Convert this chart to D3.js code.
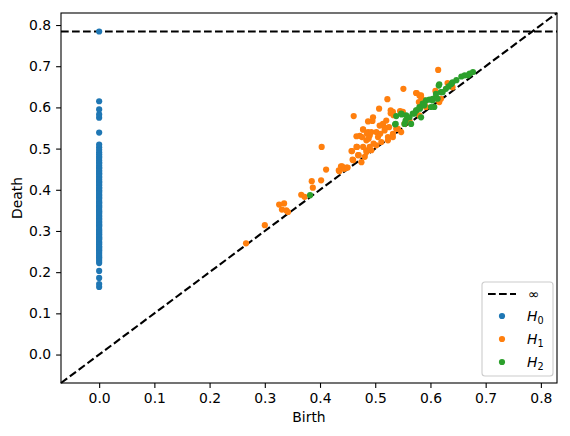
<!DOCTYPE html>
<html lang="en">

<head>
   <meta charset="UTF-8">
   <title>Persistence diagram</title>
   <script src="https://d3js.org/d3.v7.min.js"></script>
   <style>
      body { margin: 0; background: #fff; }
      text { font-family: 'DejaVu Sans', sans-serif; }
   </style>
</head>

<body>
   <script>

      // H0 deaths (all births are 0), last one never dies
      const h0Death = [0.164, 0.171, 0.186, 0.203, 0.222, 0.227, 0.232, 0.236, 0.240, 0.245, 0.249, 0.253,
         0.256, 0.260, 0.263, 0.268, 0.271, 0.274, 0.279, 0.282, 0.285, 0.288, 0.292, 0.295, 0.298, 0.302,
         0.305, 0.310, 0.313, 0.316, 0.320, 0.323, 0.327, 0.330, 0.334, 0.337, 0.341, 0.345, 0.348, 0.351,
         0.356, 0.359, 0.362, 0.367, 0.370, 0.373, 0.378, 0.381, 0.385, 0.388, 0.392, 0.396, 0.399, 0.403,
         0.406, 0.411, 0.414, 0.418, 0.421, 0.425, 0.429, 0.432, 0.437, 0.440, 0.444, 0.447, 0.452, 0.455,
         0.459, 0.464, 0.467, 0.472, 0.477, 0.481, 0.486, 0.491, 0.497, 0.503, 0.510, 0.539, 0.575, 0.583,
         0.595, 0.615, Infinity];

      const h1Birth = [0.266, 0.300, 0.326, 0.335, 0.331, 0.339, 0.342, 0.366, 0.372, 0.385, 0.387, 0.402,
         0.411, 0.435, 0.440, 0.448, 0.403, 0.461, 0.507, 0.522, 0.551, 0.614, 0.574, 0.580, 0.487, 0.495,
         0.496, 0.478, 0.466, 0.472, 0.457, 0.467, 0.484, 0.490, 0.487, 0.502, 0.505, 0.520, 0.525, 0.532,
         0.538, 0.478, 0.484, 0.481, 0.490, 0.497, 0.469, 0.460, 0.475, 0.528, 0.532, 0.545, 0.550, 0.514,
         0.517, 0.575, 0.583, 0.579, 0.589, 0.528, 0.533, 0.478, 0.485, 0.493, 0.476, 0.488, 0.508, 0.509,
         0.517, 0.523, 0.458, 0.466, 0.470, 0.484, 0.493, 0.502, 0.511, 0.523, 0.532, 0.438, 0.434, 0.444,
         0.450, 0.459, 0.541, 0.547, 0.553, 0.562, 0.609, 0.631, 0.640, 0.583, 0.589, 0.583, 0.592, 0.619,
         0.616, 0.580];
      const h1Death = [0.270, 0.314, 0.364, 0.367, 0.352, 0.350, 0.346, 0.388, 0.383, 0.421, 0.405, 0.423,
         0.449, 0.445, 0.457, 0.454, 0.504, 0.579, 0.597, 0.620, 0.645, 0.691, 0.635, 0.629, 0.566, 0.567,
         0.576, 0.547, 0.530, 0.531, 0.494, 0.504, 0.520, 0.532, 0.540, 0.540, 0.528, 0.568, 0.552, 0.536,
         0.548, 0.504, 0.496, 0.480, 0.504, 0.512, 0.484, 0.472, 0.467, 0.586, 0.589, 0.591, 0.589, 0.560,
         0.551, 0.635, 0.625, 0.613, 0.609, 0.593, 0.581, 0.546, 0.536, 0.540, 0.528, 0.524, 0.556, 0.536,
         0.544, 0.528, 0.494, 0.504, 0.484, 0.492, 0.496, 0.508, 0.516, 0.520, 0.528, 0.457, 0.447, 0.451,
         0.454, 0.473, 0.548, 0.540, 0.560, 0.568, 0.640, 0.659, 0.649, 0.629, 0.617, 0.605, 0.601, 0.621,
         0.613, 0.581];

      const h2Birth = [0.382, 0.538, 0.548, 0.556, 0.562, 0.568, 0.574, 0.580, 0.586, 0.592, 0.598, 0.604,
         0.610, 0.616, 0.619, 0.628, 0.633, 0.536, 0.553, 0.547, 0.537, 0.555, 0.571, 0.575, 0.581, 0.589,
         0.604, 0.613, 0.615, 0.610, 0.607, 0.565, 0.583, 0.601, 0.656, 0.671, 0.677, 0.662, 0.647, 0.638,
         0.622, 0.640, 0.668];
      const h2Death = [0.387, 0.579, 0.583, 0.581, 0.576, 0.585, 0.593, 0.601, 0.609, 0.617, 0.619, 0.621,
         0.625, 0.656, 0.637, 0.645, 0.651, 0.559, 0.560, 0.585, 0.560, 0.568, 0.585, 0.593, 0.597, 0.605,
         0.617, 0.621, 0.653, 0.633, 0.601, 0.560, 0.576, 0.601, 0.675, 0.682, 0.686, 0.678, 0.666, 0.657,
         0.637, 0.661, 0.678];

      const ticks = [0.0, 0.1, 0.2, 0.3, 0.4, 0.5, 0.6, 0.7, 0.8];
      const colors = ['#1f77b4', '#ff7f0e', '#2ca02c'];
      const labels = ['0', '1', '2'];

      const dgms = [
         h0Death.map(d => [0, d]),
         h1Birth.map((b, i) => [b, h1Death[i]]),
         h2Birth.map((b, i) => [b, h2Death[i]])
      ];

      // axis range like persim: buffer of a fifth of the finite range
      const finite = dgms.flat(2).filter(v => isFinite(v));
      const axMin = d3.min(finite), axMax = d3.max(finite);
      const buffer = (axMax - axMin) / 5;
      const lo = axMin - buffer / 2, hi = axMax + buffer;
      const bInf = lo + (hi - lo) * 0.95;

      const W = 570, H = 436;
      const m = { left: 61, right: 13, top: 13, bottom: 53 };

      const svg = d3.select('body').append('svg').attr('width', W).attr('height', H);

      const x = d3.scaleLinear().domain([lo, hi]).range([m.left, W - m.right]);
      const y = d3.scaleLinear().domain([lo, hi]).range([H - m.bottom, m.top]);

      const plot = svg.append('g');

      plot.append('line')
         .attr('x1', x(lo)).attr('y1', y(lo)).attr('x2', x(hi)).attr('y2', y(hi))
         .attr('stroke', '#000').attr('stroke-width', 2.1).attr('stroke-dasharray', '7.7,3.3');
      plot.append('line')
         .attr('x1', x(lo)).attr('y1', y(bInf)).attr('x2', x(hi)).attr('y2', y(bInf))
         .attr('stroke', '#000').attr('stroke-width', 2.1).attr('stroke-dasharray', '7.7,3.3');

      dgms.forEach((dgm, k) => {
         plot.append('g').selectAll('circle')
            .data(dgm)
            .enter()
            .append('circle')
            .attr('cx', d => x(d[0]))
            .attr('cy', d => y(isFinite(d[1]) ? d[1] : bInf))
            .attr('r', 3.1)
            .attr('fill', colors[k]);
      });

      // axes
      const fmt = d3.format('.1f');
      const xAxis = svg.append('g').attr('transform', `translate(0,${H - m.bottom})`)
         .call(d3.axisBottom(x).tickValues(ticks).tickFormat(fmt).tickSize(4.9).tickPadding(4.9));
      const yAxis = svg.append('g').attr('transform', `translate(${m.left},0)`)
         .call(d3.axisLeft(y).tickValues(ticks).tickFormat(fmt).tickSize(4.9).tickPadding(4.9));
      [xAxis, yAxis].forEach(a => {
         a.select('.domain').remove();
         a.selectAll('line').attr('stroke', '#000').attr('stroke-width', 1.1);
         a.selectAll('text').attr('font-size', 13.9).attr('fill', '#000')
            .attr('font-family', "'DejaVu Sans', sans-serif");
      });

      svg.append('rect')
         .attr('x', m.left).attr('y', m.top)
         .attr('width', W - m.left - m.right).attr('height', H - m.top - m.bottom)
         .attr('fill', 'none').attr('stroke', '#000').attr('stroke-width', 1.1);

      svg.append('text')
         .attr('x', (m.left + W - m.right) / 2).attr('y', 422)
         .attr('text-anchor', 'middle').attr('font-size', 13.9).text('Birth');
      svg.append('text')
         .attr('transform', `translate(22,${(m.top + H - m.bottom) / 2}) rotate(-90)`)
         .attr('text-anchor', 'middle').attr('font-size', 13.9).text('Death');

      // legend
      const lg = svg.append('g').attr('transform', 'translate(482,282)');
      lg.append('rect')
         .attr('width', 71).attr('height', 94).attr('rx', 3)
         .attr('fill', '#fff').attr('fill-opacity', 0.8)
         .attr('stroke', '#ccc').attr('stroke-width', 1.1);

      lg.append('line')
         .attr('x1', 6).attr('x2', 34).attr('y1', 12).attr('y2', 12)
         .attr('stroke', '#000').attr('stroke-width', 2.1).attr('stroke-dasharray', '7.7,3.3');
      lg.append('text').attr('x', 46).attr('y', 17).attr('font-size', 13.9).text('∞');

      labels.forEach((l, i) => {
         const yy = 34 + i * 23;
         lg.append('circle').attr('cx', 20).attr('cy', yy).attr('r', 3.1).attr('fill', colors[i]);
         const t = lg.append('text').attr('x', 45).attr('y', yy + 5).attr('font-size', 13.9);
         t.append('tspan').attr('font-style', 'italic').text('H');
         t.append('tspan').attr('font-size', 9.7).attr('dy', 3).text(l);
      });

   </script>

</body>

</html>
